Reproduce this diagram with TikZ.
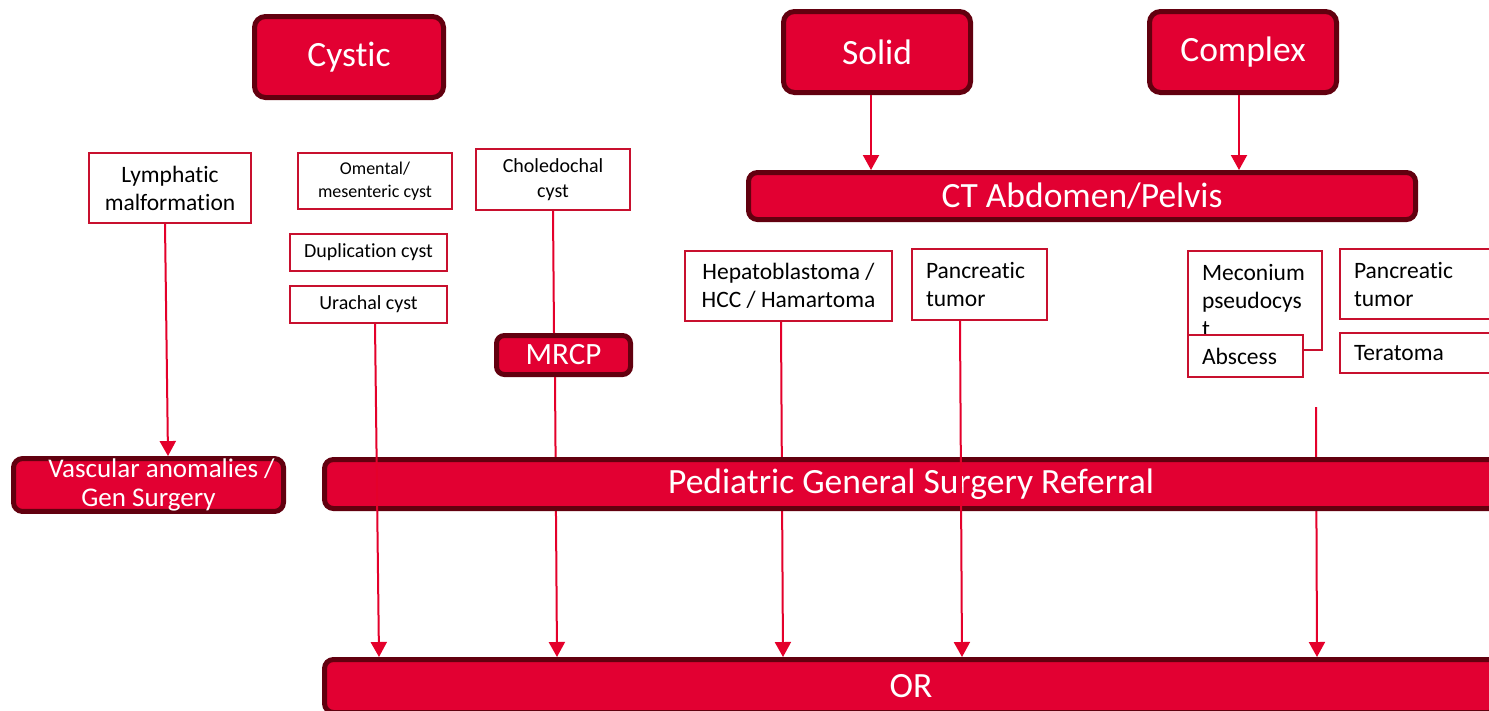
\documentclass[tikz,border=0pt]{standalone}
\usepackage{fontspec}
\setmainfont{Carlito}[Ligatures={NoCommon}]
\usetikzlibrary{arrows.meta,calc}
\definecolor{boxred}{HTML}{E20032}
\definecolor{darkbord}{HTML}{62000F}
\definecolor{linered}{HTML}{E4002B}
\definecolor{thinbord}{HTML}{C8102E}
\tikzset{
  redbox/.style={draw=darkbord, fill=boxred, line width=5pt, rounded corners=11pt,
    text=white, align=center, inner sep=0pt, font=\fontsize{35.5}{40}\selectfont},
  whitebox/.style={draw=thinbord, fill=white, line width=2pt, align=center,
    inner sep=0pt, text=black, font=\fontsize{23.5}{28}\selectfont},
  leftbox/.style={whitebox, align=left, inner xsep=14pt},
  arr/.style={draw=linered, line width=2pt, -{Triangle[width=16pt,length=15pt]}},
  plainline/.style={draw=linered, line width=2pt},
}
\begin{document}
\begin{tikzpicture}[x=1pt,y=-1pt]
\useasboundingbox (0,0) rectangle (1489,710);
\fill[white] (0,0) rectangle (1489,710);

% top categories
\node[redbox, minimum width=189, minimum height=81] (cystic) at (349,57) {Cystic};
\node[redbox, minimum width=187, minimum height=81] (solid) at (877,52) {Solid};
\node[redbox, minimum width=187, minimum height=81] (complex) at (1243,52) {Complex};
\node[redbox, minimum width=667, minimum height=47, rounded corners=9pt] (ct) at (1082,196) {CT Abdomen/Pelvis};

% cystic items
\node[whitebox, minimum width=162, minimum height=70] (lym) at (170,188) {Lymphatic\\malformation};
\node[whitebox, minimum width=154, minimum height=56, font=\fontsize{18}{22.5}\selectfont] (omental) at (375,181) {Omental/\\mesenteric cyst};
\node[whitebox, minimum width=157, minimum height=37, font=\fontsize{20}{24}\selectfont] (dup) at (368.5,252.5) {Duplication cyst};
\node[whitebox, minimum width=157, minimum height=37, font=\fontsize{20}{24}\selectfont] (urachal) at (368.5,304.5) {Urachal cyst};
\node[whitebox, minimum width=154, minimum height=61, font=\fontsize{20}{25}\selectfont] (chol) at (553,179.5) {Choledochal\\cyst};
\node[redbox, minimum width=134, minimum height=39, rounded corners=8pt, font=\fontsize{31}{36}\selectfont] (mrcp) at (563.5,355) {MRCP};

% solid items
\node[whitebox, minimum width=207, minimum height=70] (hep) at (788.5,286) {Hepatoblastoma /\\HCC / Hamartoma};
\node[leftbox, text width=107, minimum height=71] (pancA) at (979.5,284.5) {Pancreatic\\tumor};

% complex items
\node[leftbox, text width=106, minimum height=99] (mec) at (1255,300.5) {Meconium\\pseudocys\\t};
\node[leftbox, text width=87, minimum height=42] (abscess) at (1245.5,356) {Abscess};
\node[leftbox, text width=125, minimum height=70] (pancB) at (1416.5,284) {Pancreatic\\tumor};
\node[leftbox, text width=125, minimum height=40] (terat) at (1416.5,353) {Teratoma};
\coordinate (cfree) at (1316,407);

% destinations
\node[redbox, minimum width=270, minimum height=49, rounded corners=9pt, font=\fontsize{27}{29.5}\selectfont] (vasc) at (148.5,485) {\hspace*{26pt}Vascular anomalies /\\Gen Surgery};
\node[redbox, minimum width=1173, minimum height=53, rounded corners=9pt] (or) at (911,686) {OR};

% connectors
\draw[arr] ([xshift=-6pt]solid.south) -- ([xshift=-6pt]solid.south |- ct.north);
\draw[arr] ([xshift=-4pt]complex.south) -- ([xshift=-4pt]complex.south |- ct.north);
\draw[arr] ([xshift=-5pt]lym.south) -- ([xshift=-2pt]lym.south |- vasc.north);
\draw[plainline] (chol.south) -- ([xshift=1pt]chol.south |- mrcp.north);
\draw[arr] ([xshift=-8.5pt]mrcp.south) -- ([xshift=-6.5pt]mrcp.south |- or.north);
\draw[arr] ([xshift=-7.5pt]hep.south) -- ([xshift=-5.5pt]hep.south |- or.north);
\draw[arr] (cfree) -- ([xshift=1pt]cfree |- or.north);

\node[redbox, minimum width=1173, minimum height=49, rounded corners=9pt] (ref) at (911,484) {Pediatric General Surgery Referral};

\draw[arr] ([xshift=6.5pt]urachal.south) -- ([xshift=10.5pt]urachal.south |- or.north);
\draw[arr] ([xshift=-19.5pt]pancA.south) -- ([xshift=-17.5pt]pancA.south |- or.north);
\end{tikzpicture}
\end{document}
